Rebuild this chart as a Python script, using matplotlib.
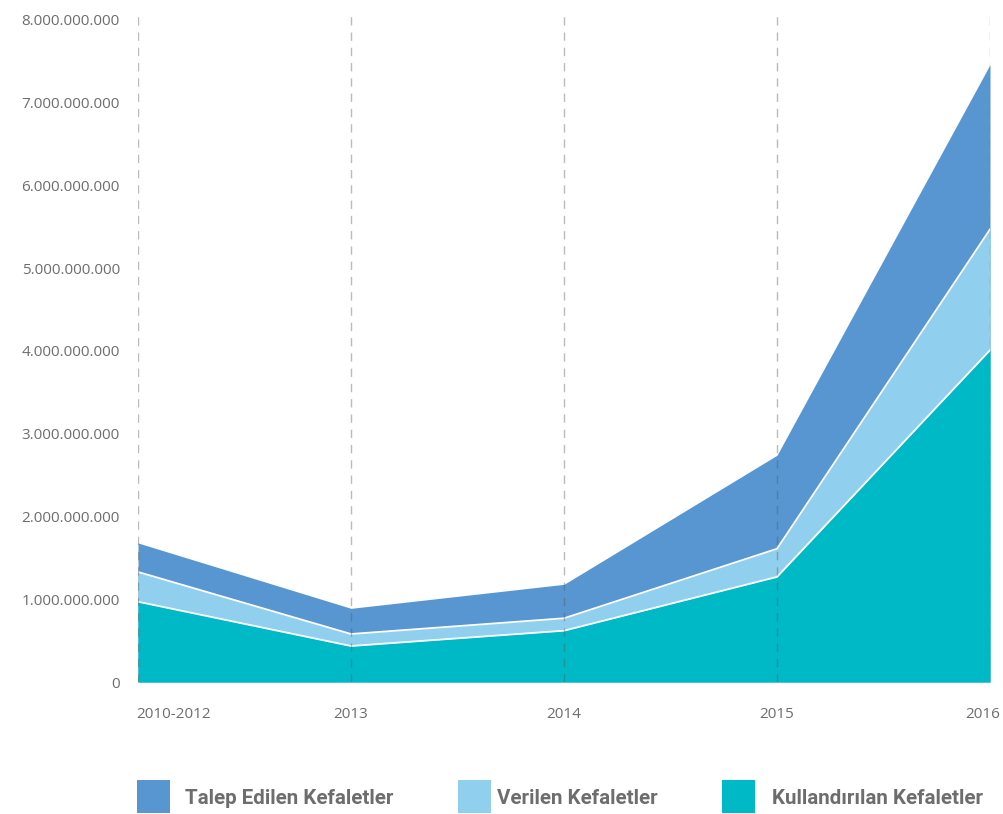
import matplotlib
matplotlib.use("Agg")
import matplotlib.pyplot as plt
from matplotlib.patches import Rectangle
from matplotlib.ticker import FuncFormatter

years = ["2010-2012", "2013", "2014", "2015", "2016"]
talep = [1.68e9, 0.89e9, 1.18e9, 2.74e9, 7.46e9]
verilen = [1.33e9, 0.58e9, 0.77e9, 1.61e9, 5.47e9]
kullandirilan = [0.97e9, 0.435e9, 0.62e9, 1.27e9, 4.01e9]

names = ["Talep Edilen Kefaletler", "Verilen Kefaletler", "Kullandırılan Kefaletler"]
colors = ["#5896d1", "#90cfee", "#00b9c6"]
text_color = "#6d6d6d"

plt.rcParams['font.family'] = ['Open Sans', 'DejaVu Sans']

fig = plt.figure(figsize=(10.04, 8.14), dpi=100)
ax = fig.add_axes([138 / 1004, 1 - 682 / 814, 852 / 1004, 672 / 814])

x = list(range(len(years)))
ax.fill_between(x, 0, talep, color=colors[0], lw=0, zorder=1)
ax.fill_between(x, 0, verilen, color=colors[1], lw=0, zorder=2)
ax.plot(x, verilen, color="white", lw=1.3, zorder=2.5)
ax.fill_between(x, 0, kullandirilan, color=colors[2], lw=0, zorder=3)
ax.plot(x, kullandirilan, color="white", lw=1.3, zorder=3.5)

# dashed vertical guides on top of the areas
for xi in x:
    ax.axvline(xi, color="#555555", alpha=0.4, lw=1, ls=(0, (6, 5)), zorder=5)

ax.set_xlim(0, len(years) - 1)
ax.set_ylim(0, 8.12e9)
ax.set_yticks([i * 1e9 for i in range(9)])
ax.yaxis.set_major_formatter(FuncFormatter(lambda v, p: f"{int(v):,}".replace(",", ".")))
ax.set_xticks(x)
ax.set_xticklabels([])
ax.tick_params(axis="both", length=0, labelsize=11, colors=text_color)
ax.tick_params(axis="y", pad=13)
for s in ax.spines.values():
    s.set_visible(False)

# year labels below the axis
for i, yr in enumerate(years):
    ha, dx = "center", 0
    if i == 0:
        ha, dx = "left", -2
    elif i == len(years) - 1:
        ha, dx = "right", 10
    ax.annotate(yr, xy=(i, 0), xycoords=("data", "axes fraction"),
                xytext=(dx, -33), textcoords="offset pixels",
                ha=ha, va="center", fontsize=11, color=text_color)

# legend along the bottom
W, H = 1004, 814
box_x = [137, 458, 722]
txt_x = [185, 497, 772]
for bx, tx, name, c in zip(box_x, txt_x, names, colors):
    fig.patches.append(Rectangle((bx / W, 1 - 813 / H), 33 / W, 33 / H,
                                 transform=fig.transFigure, color=c, lw=0))
    fig.text(tx / W, 1 - 799 / H, name, fontsize=14.8, fontweight="bold",
             color=text_color, va="center", ha="left",
             family=['Roboto', 'DejaVu Sans'])

fig.savefig("out.png", dpi=100)
